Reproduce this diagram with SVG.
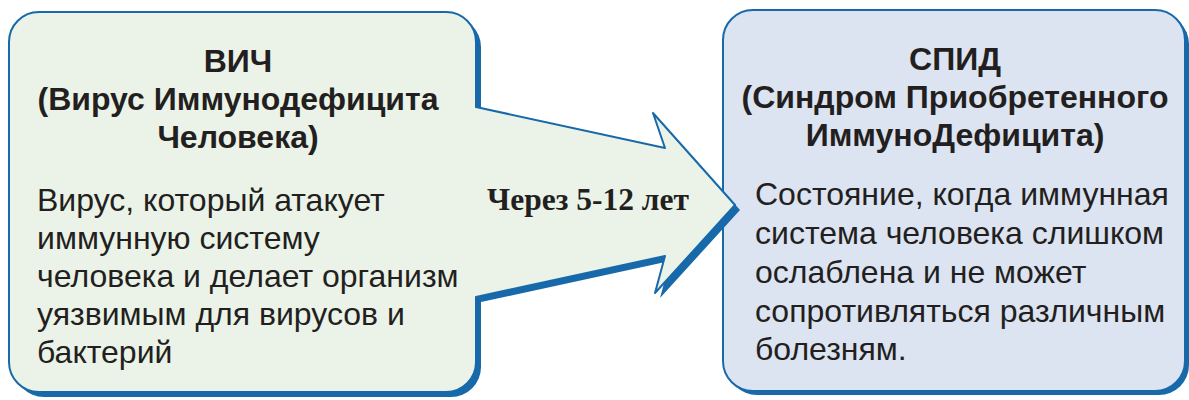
<svg xmlns="http://www.w3.org/2000/svg" width="1189" height="400" viewBox="0 0 1189 400">
<defs>
<style>
.shadow{fill:#1769aa}
.edge{stroke:#1769aa;stroke-width:2;stroke-linejoin:round}
.title{font-family:"Liberation Sans",Arial,sans-serif;font-weight:bold;font-size:32px;fill:#231f20;text-anchor:middle}
.body{font-family:"Liberation Sans",Arial,sans-serif;font-size:32px;fill:#231f20}
.label{font-family:"Liberation Serif","Times New Roman",serif;font-weight:bold;font-size:31.5px;fill:#231f20;text-anchor:middle}
</style>
</defs>
<rect width="1189" height="400" fill="#ffffff"/>
<g id="aids">
<rect class="shadow" x="727" y="14" width="462" height="381" rx="30"/>
<rect class="edge" fill="#dce3f1" x="723" y="10" width="462" height="381" rx="30"/>
<text class="title" x="955" y="70">СПИД</text>
<text class="title" x="955" y="108">(Синдром Приобретенного</text>
<text class="title" x="955" y="146">ИммуноДефицита)</text>
<text class="body" x="755" y="205">Состояние, когда иммунная</text>
<text class="body" x="755" y="244">система человека слишком</text>
<text class="body" x="755" y="283">ослаблена и не может</text>
<text class="body" x="755" y="322">сопротивляться различным</text>
<text class="body" x="755" y="360">болезням.</text>
</g>
<g id="hiv">
<path class="shadow" transform="translate(5,5)" d="M39,12 H446 A30,30 0 0 1 476,42 V107 L665,148 L653,113 L735,205 L655,293 L665,256 L476,297 V362 A30,30 0 0 1 446,392 H39 A30,30 0 0 1 9,362 V42 A30,30 0 0 1 39,12 Z"/>
<path class="edge" fill="#ebf3e8" d="M39,12 H446 A30,30 0 0 1 476,42 V107 L665,148 L653,113 L735,205 L655,293 L665,256 L476,297 V362 A30,30 0 0 1 446,392 H39 A30,30 0 0 1 9,362 V42 A30,30 0 0 1 39,12 Z"/>
<text class="title" x="238" y="72">ВИЧ</text>
<text class="title" x="238" y="110">(Вирус Иммунодефицита</text>
<text class="title" x="238" y="148">Человека)</text>
<text class="body" x="37" y="211">Вирус, который атакует</text>
<text class="body" x="37" y="249">иммунную систему</text>
<text class="body" x="37" y="287">человека и делает организм</text>
<text class="body" x="37" y="325">уязвимым для вирусов и</text>
<text class="body" x="37" y="363">бактерий</text>
</g>
<g id="connectors">
<text class="label" x="588" y="210">Через 5-12 лет</text>
</g>
</svg>
